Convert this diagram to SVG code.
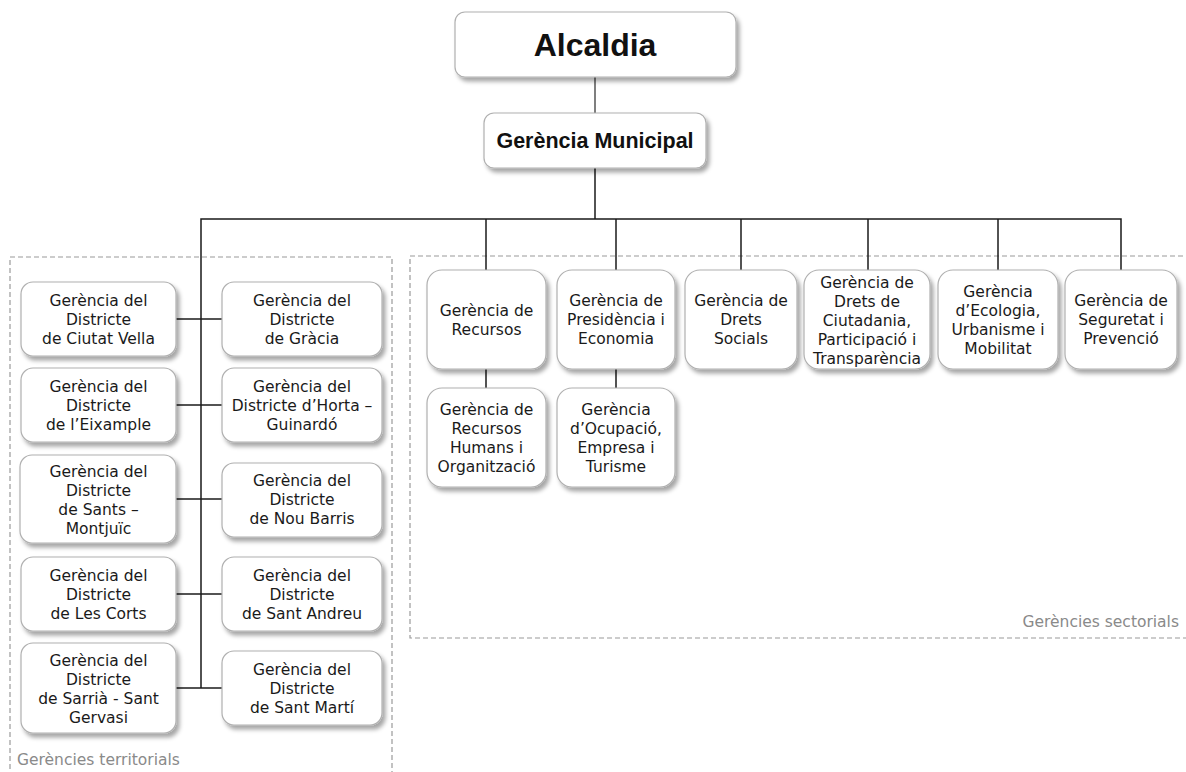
<svg xmlns="http://www.w3.org/2000/svg" width="1186" height="772" viewBox="0 0 1186 772">
<defs>
<filter id="sh" x="-10%" y="-10%" width="125%" height="130%">
<feDropShadow dx="3" dy="4" stdDeviation="2" flood-color="#000" flood-opacity="0.35"/>
</filter>
<style>
.box{fill:#fff;stroke:#b0b0b0;stroke-width:1.2;filter:url(#sh)}
.t{font-family:"DejaVu Sans",Verdana,sans-serif;font-size:15.5px;fill:#1a1a1a;text-anchor:middle}
.b{font-family:"Liberation Sans",Arial,sans-serif;font-weight:bold;fill:#111;text-anchor:middle}
.lbl{font-family:"DejaVu Sans",Verdana,sans-serif;font-size:15.5px;fill:#8a8a8a}
.reg{fill:none;stroke:#9a9a9a;stroke-width:1.2;stroke-dasharray:5,3}
.c{fill:none;stroke:#1a1a1a;stroke-width:1.5}
</style>
</defs>
<rect width="1186" height="772" fill="#fff"/>
<g id="regions">
<rect class="reg" x="10" y="257" width="382" height="530"/>
<rect class="reg" x="410" y="256" width="790" height="382"/>
<text class="lbl" x="17" y="765">Gerències territorials</text>
<text class="lbl" x="1179" y="627" text-anchor="end">Gerències sectorials</text>
</g>
<g id="connectors">
<line class="c" x1="595" y1="77" x2="595" y2="113" style="stroke:#555"/>
<line class="c" x1="595" y1="168" x2="595" y2="219"/>
<polyline class="c" points="201,688 201,219 1121,219 1121,270"/>
<line class="c" x1="486" y1="219" x2="486" y2="270"/>
<line class="c" x1="616" y1="219" x2="616" y2="270"/>
<line class="c" x1="741" y1="219" x2="741" y2="270"/>
<line class="c" x1="868" y1="219" x2="868" y2="270"/>
<line class="c" x1="998" y1="219" x2="998" y2="270"/>
<line class="c" x1="486" y1="369" x2="486" y2="388"/>
<line class="c" x1="616" y1="369" x2="616" y2="388"/>
<line class="c" x1="176" y1="319" x2="222" y2="319"/>
<line class="c" x1="176" y1="405" x2="222" y2="405"/>
<line class="c" x1="176" y1="499" x2="222" y2="499"/>
<line class="c" x1="176" y1="594" x2="222" y2="594"/>
<line class="c" x1="176" y1="688" x2="222" y2="688"/>
</g>
<g id="alcaldia">
<rect class="box" x="455" y="12" width="281" height="65" rx="10"/>
<text class="b" x="595" y="56" font-size="32">Alcaldia</text>
</g>
<g id="gerencia-municipal">
<rect class="box" x="484" y="113" width="222" height="55" rx="10"/>
<text class="b" x="595" y="148" font-size="21.5">Gerència Municipal</text>
</g>
<g id="ciutat-vella">
<rect class="box" x="21" y="282" width="155" height="74" rx="12"/>
<text class="t"><tspan x="98.5" y="306">Gerència del</tspan><tspan x="98.5" y="325">Districte</tspan><tspan x="98.5" y="344">de Ciutat Vella</tspan></text>
</g>
<g id="gracia">
<rect class="box" x="222" y="282" width="160" height="74" rx="12"/>
<text class="t"><tspan x="302" y="306">Gerència del</tspan><tspan x="302" y="325">Districte</tspan><tspan x="302" y="344">de Gràcia</tspan></text>
</g>
<g id="eixample">
<rect class="box" x="21" y="368" width="155" height="74" rx="12"/>
<text class="t"><tspan x="98.5" y="392">Gerència del</tspan><tspan x="98.5" y="411">Districte</tspan><tspan x="98.5" y="430">de l’Eixample</tspan></text>
</g>
<g id="horta">
<rect class="box" x="222" y="368" width="160" height="74" rx="12"/>
<text class="t"><tspan x="302" y="392">Gerència del</tspan><tspan x="302" y="411">Districte d’Horta –</tspan><tspan x="302" y="430">Guinardó</tspan></text>
</g>
<g id="sants">
<rect class="box" x="20" y="455" width="156" height="88" rx="12"/>
<text class="t"><tspan x="98.5" y="477">Gerència del</tspan><tspan x="98.5" y="496">Districte</tspan><tspan x="98.5" y="515">de Sants –</tspan><tspan x="98.5" y="534">Montjuïc</tspan></text>
</g>
<g id="nou-barris">
<rect class="box" x="222" y="463" width="160" height="74" rx="12"/>
<text class="t"><tspan x="302" y="486">Gerència del</tspan><tspan x="302" y="505">Districte</tspan><tspan x="302" y="524">de Nou Barris</tspan></text>
</g>
<g id="les-corts">
<rect class="box" x="21" y="557" width="155" height="74" rx="12"/>
<text class="t"><tspan x="98.5" y="581">Gerència del</tspan><tspan x="98.5" y="600">Districte</tspan><tspan x="98.5" y="619">de Les Corts</tspan></text>
</g>
<g id="sant-andreu">
<rect class="box" x="222" y="557" width="160" height="74" rx="12"/>
<text class="t"><tspan x="302" y="581">Gerència del</tspan><tspan x="302" y="600">Districte</tspan><tspan x="302" y="619">de Sant Andreu</tspan></text>
</g>
<g id="sarria">
<rect class="box" x="21" y="643" width="155" height="90" rx="12"/>
<text class="t"><tspan x="98.5" y="666">Gerència del</tspan><tspan x="98.5" y="685">Districte</tspan><tspan x="98.5" y="704">de Sarrià - Sant</tspan><tspan x="98.5" y="723">Gervasi</tspan></text>
</g>
<g id="sant-marti">
<rect class="box" x="222" y="651" width="160" height="74" rx="12"/>
<text class="t"><tspan x="302" y="675">Gerència del</tspan><tspan x="302" y="694">Districte</tspan><tspan x="302" y="713">de Sant Martí</tspan></text>
</g>
<g id="recursos">
<rect class="box" x="427" y="270" width="119" height="99" rx="15"/>
<text class="t"><tspan x="486.5" y="316">Gerència de</tspan><tspan x="486.5" y="335">Recursos</tspan></text>
</g>
<g id="presidencia">
<rect class="box" x="557" y="270" width="118" height="99" rx="15"/>
<text class="t"><tspan x="616" y="306">Gerència de</tspan><tspan x="616" y="325">Presidència i</tspan><tspan x="616" y="344">Economia</tspan></text>
</g>
<g id="drets-socials">
<rect class="box" x="685" y="270" width="112" height="99" rx="15"/>
<text class="t"><tspan x="741" y="306">Gerència de</tspan><tspan x="741" y="325">Drets</tspan><tspan x="741" y="344">Socials</tspan></text>
</g>
<g id="drets-ciutadania">
<rect class="box" x="804" y="270" width="126" height="99" rx="15"/>
<text class="t"><tspan x="867" y="288">Gerència de</tspan><tspan x="867" y="307">Drets de</tspan><tspan x="867" y="326">Ciutadania,</tspan><tspan x="867" y="345">Participació i</tspan><tspan x="867" y="364">Transparència</tspan></text>
</g>
<g id="ecologia">
<rect class="box" x="938" y="270" width="120" height="99" rx="15"/>
<text class="t"><tspan x="998" y="297">Gerència</tspan><tspan x="998" y="316">d’Ecologia,</tspan><tspan x="998" y="335">Urbanisme i</tspan><tspan x="998" y="354">Mobilitat</tspan></text>
</g>
<g id="seguretat">
<rect class="box" x="1065" y="270" width="112" height="99" rx="15"/>
<text class="t"><tspan x="1121" y="306">Gerència de</tspan><tspan x="1121" y="325">Seguretat i</tspan><tspan x="1121" y="344">Prevenció</tspan></text>
</g>
<g id="recursos-humans">
<rect class="box" x="427" y="388" width="119" height="99" rx="15"/>
<text class="t"><tspan x="486.5" y="415">Gerència de</tspan><tspan x="486.5" y="434">Recursos</tspan><tspan x="486.5" y="453">Humans i</tspan><tspan x="486.5" y="472">Organització</tspan></text>
</g>
<g id="ocupacio">
<rect class="box" x="557" y="388" width="118" height="99" rx="15"/>
<text class="t"><tspan x="616" y="415">Gerència</tspan><tspan x="616" y="434">d’Ocupació,</tspan><tspan x="616" y="453">Empresa i</tspan><tspan x="616" y="472">Turisme</tspan></text>
</g>
</svg>
